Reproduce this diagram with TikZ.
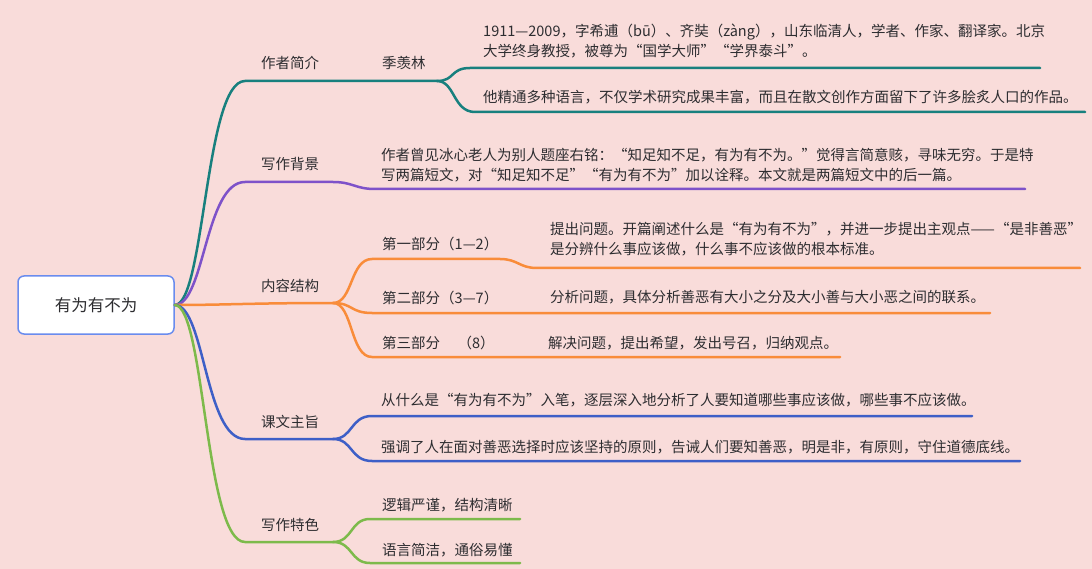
\documentclass[tikz,border=0pt]{standalone}
\usepackage{fontspec}
\setmainfont{Noto Sans CJK SC}
\definecolor{bg}{RGB}{249,220,218}
\definecolor{txt}{RGB}{45,45,48}
\definecolor{rootb}{RGB}{106,140,238}
\definecolor{cteal}{RGB}{24,128,126}
\definecolor{cpurple}{RGB}{126,82,201}
\definecolor{corange}{RGB}{249,140,58}
\definecolor{cblue}{RGB}{62,95,199}
\definecolor{cgreen}{RGB}{125,186,75}
\begin{document}
\begin{tikzpicture}[x=1pt,y=-1pt,line cap=round,
  lbl/.style={anchor=base west,inner sep=0pt,text=txt,font=\fontsize{14.5}{16}\selectfont},
  br/.style={line width=2.5pt}]
\fill[bg] (0,0) rectangle (1092,569);
\useasboundingbox (0,0) rectangle (1092,569);

% root
\node[draw=rootb,fill=white,rounded corners=6pt,line width=1.5pt,minimum width=156pt,
      minimum height=58pt,text=txt,font=\fontsize{16.5}{18}\selectfont] (root) at (96,305) {有为有不为};

% coordinates
\coordinate (a1) at (245,81);  \coordinate (a2) at (437,81);
\coordinate (a3) at (470,68);  \coordinate (a4) at (1040,68);
\coordinate (a5) at (475,112); \coordinate (a6) at (1085,112);
\coordinate (b1) at (245,182); \coordinate (b2) at (333,182);
\coordinate (b3) at (375,189); \coordinate (b4) at (1025,189);
\coordinate (c1) at (333,303);
\coordinate (c2) at (372,259); \coordinate (c3) at (500,259);
\coordinate (c4) at (537,268); \coordinate (c5) at (1080,268);
\coordinate (c6) at (372,313); \coordinate (c7) at (990,313);
\coordinate (c8) at (372,357); \coordinate (c9) at (840,357);
\coordinate (d1) at (245,439); \coordinate (d2) at (333,439);
\coordinate (d3) at (372,416); \coordinate (d4) at (972,416);
\coordinate (d5) at (372,461); \coordinate (d6) at (1020,461);
\coordinate (e1) at (245,542); \coordinate (e2) at (333,542);
\coordinate (e3) at (370,519); \coordinate (e4) at (520,519);
\coordinate (e5) at (370,563); \coordinate (e6) at (520,563);

% teal branch
\draw[br,cteal] (root.east) .. controls +(30,0) and +(-40,0) .. (a1) -- (a2);
\draw[br,cteal] (a2) .. controls +(18,0) and +(-20,0) .. (a3) -- (a4);
\draw[br,cteal] (a2) .. controls +(18,0) and +(-22,0) .. (a5) -- (a6);
% purple branch
\draw[br,cpurple] (root.east) .. controls +(30,0) and +(-40,0) .. (b1) -- (b2)
   .. controls +(20,0) and +(-20,0) .. (b3) -- (b4);
% orange branch
\draw[br,corange] (root.east) .. controls +(50,0) and +(-80,0) .. (c1);
\draw[br,corange] (c1) .. controls +(20,0) and +(-22,0) .. (c2) -- (c3)
   .. controls +(18,0) and +(-18,0) .. (c4) -- (c5);
\draw[br,corange] (c1) .. controls +(20,0) and +(-22,0) .. (c6) -- (c7);
\draw[br,corange] (c1) .. controls +(20,0) and +(-22,0) .. (c8) -- (c9);
% blue branch
\draw[br,cblue] (root.east) .. controls +(30,0) and +(-40,0) .. (d1) -- (d2);
\draw[br,cblue] (d2) .. controls +(20,0) and +(-22,0) .. (d3) -- (d4);
\draw[br,cblue] (d2) .. controls +(20,0) and +(-22,0) .. (d5) -- (d6);
% green branch
\draw[br,cgreen] (root.east) .. controls +(30,0) and +(-40,0) .. (e1) -- (e2);
\draw[br,cgreen] (e2) .. controls +(20,0) and +(-20,0) .. (e3) -- (e4);
\draw[br,cgreen] (e2) .. controls +(20,0) and +(-20,0) .. (e5) -- (e6);

% labels
\node[lbl] (l1) at (261,69) {作者简介};
\node[lbl] (l11) at (382,69) {季羡林};
\node[lbl] (t1a) at (483,37) {1911—2009，字希逋（bū）、齐奘（zàng），山东临清人，学者、作家、翻译家。北京};
\node[lbl] (t1b) at (483,57) {大学终身教授，被尊为“国学大师”“学界泰斗”。};
\node[lbl] (t2) at (483,103) {他精通多种语言，不仅学术研究成果丰富，而且在散文创作方面留下了许多脍炙人口的作品。};

\node[lbl] (l2) at (261,170) {写作背景};
\node[lbl] (t3a) at (381,161) {作者曾见冰心老人为别人题座右铭：“知足知不足，有为有不为。”觉得言简意赅，寻味无穷。于是特};
\node[lbl] (t3b) at (381,181) {写两篇短文，对“知足知不足”“有为有不为”加以诠释。本文就是两篇短文中的后一篇。};

\node[lbl] (l3) at (261,292) {内容结构};
\node[lbl] (p1) at (382,250) {第一部分（1—2）};
\node[lbl] (p2) at (382,303) {第二部分（3—7）};
\node[lbl] (p3) at (382,348) {第三部分\hspace{1.2em}（8）};
\node[lbl] (t4a) at (550,235) {提出问题。开篇阐述什么是“有为有不为”，并进一步提出主观点——“是非善恶”};
\node[lbl] (t4b) at (550,255) {是分辨什么事应该做，什么事不应该做的根本标准。};
\node[lbl] (t5) at (550,302) {分析问题，具体分析善恶有大小之分及大小善与大小恶之间的联系。};
\node[lbl] (t6) at (548,348) {解决问题，提出希望，发出号召，归纳观点。};

\node[lbl] (l4) at (261,427) {课文主旨};
\node[lbl] (t7) at (381,405) {从什么是“有为有不为”入笔，逐层深入地分析了人要知道哪些事应该做，哪些事不应该做。};
\node[lbl] (t8) at (381,452) {强调了人在面对善恶选择时应该坚持的原则，告诫人们要知善恶，明是非，有原则，守住道德底线。};

\node[lbl] (l5) at (261,530) {写作特色};
\node[lbl] (t9) at (382,510) {逻辑严谨，结构清晰};
\node[lbl] (t10) at (382,555) {语言简洁，通俗易懂};
\end{tikzpicture}
\end{document}
